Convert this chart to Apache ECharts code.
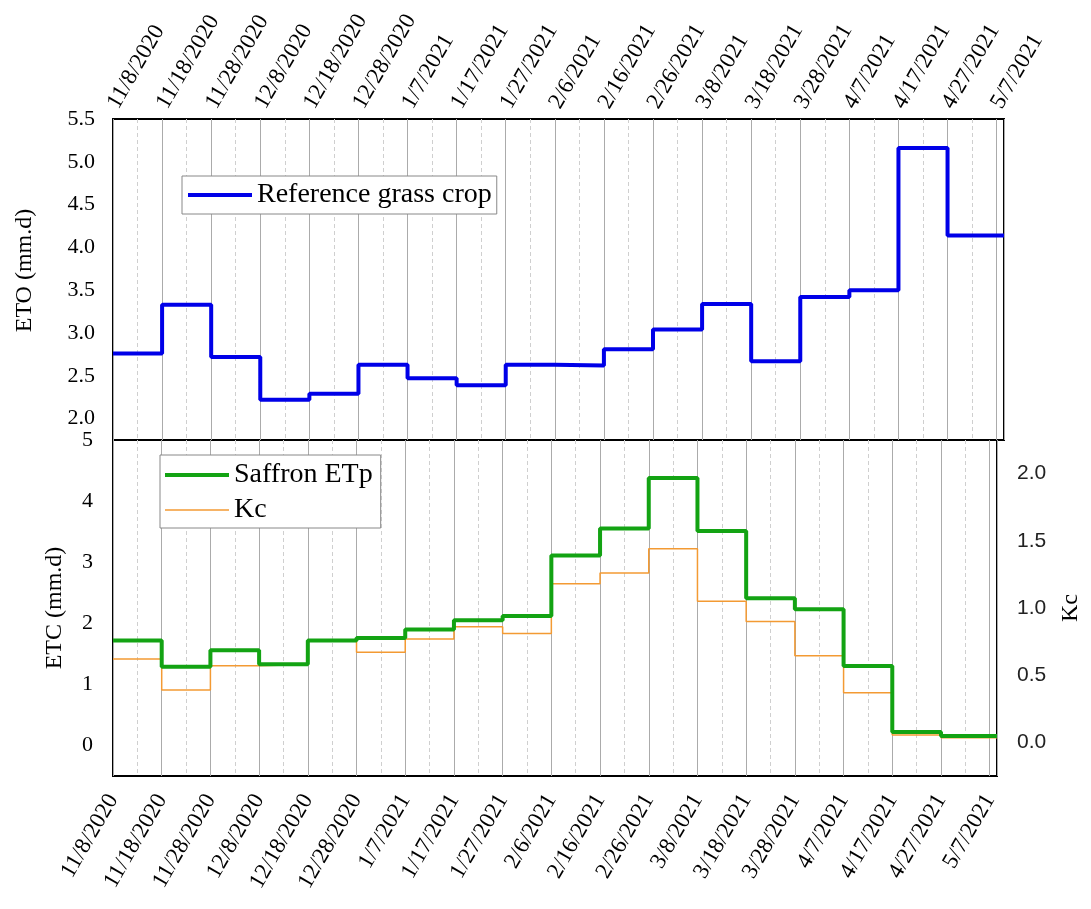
<!DOCTYPE html>
<html>
<head>
<meta charset="utf-8">
<script src="https://cdn.jsdelivr.net/npm/echarts@6/dist/echarts.min.js"></script>
<style>
    html, body { margin: 0; padding: 0; background: #fff; }
    #chart { width: 1091px; height: 909px; }
</style>
</head>
<body>
<div id="chart"></div>
<script>
// tick labels of the shared date axis (10 day steps)
var dateLabels = ['11/8/2020', '11/18/2020', '11/28/2020', '12/8/2020', '12/18/2020', '12/28/2020',
    '1/7/2021', '1/17/2021', '1/27/2021', '2/6/2021', '2/16/2021', '2/26/2021', '3/8/2021',
    '3/18/2021', '3/28/2021', '4/7/2021', '4/17/2021', '4/27/2021', '5/7/2021'];

// step values, one per 10 day period starting at dateLabels[i]
var etoValues = [2.76, 3.33, 2.72, 2.22, 2.29, 2.63, 2.47, 2.39, 2.63,
    2.62, 2.81, 3.04, 3.34, 2.67, 3.42, 3.50, 5.16, 4.14];
var etcValues = [1.72, 1.29, 1.56, 1.33, 1.72, 1.76, 1.90, 2.05, 2.12,
    3.11, 3.55, 4.38, 3.51, 2.41, 2.23, 1.30, 0.22, 0.155];
var kcValues = [0.62, 0.39, 0.57, 0.58, 0.76, 0.67, 0.77, 0.86, 0.81,
    1.18, 1.26, 1.44, 1.05, 0.90, 0.645, 0.37, 0.055, 0.035];

var X_MAX = 181.5;     // axis runs a little past 5/7/2021
var SERIF = 'Liberation Serif';
var BLUE = '#0000e8', GREEN = '#13a313', ORANGE = '#f39a33';

function dayOf(label) {
    var p = label.split('/');
    return Date.UTC(+p[2], +p[0] - 1, +p[1]) / 86400000;
}
var day0 = dayOf(dateLabels[0]);
var labelAt = {};
dateLabels.forEach(function (d) { labelAt[dayOf(d) - day0] = d; });

// step line points, last value held to the end of the axis
function steps(vals) {
    var out = vals.map(function (v, i) { return [dayOf(dateLabels[i]) - day0, v]; });
    out.push([X_MAX, vals[vals.length - 1]]);
    return out;
}

function isStep(v, s) {
    return Math.abs(v / s - Math.round(v / s)) < 1e-6;
}

function xAxisOf(grid, pos) {
    return {
        gridIndex: grid,
        type: 'value',
        position: pos,
        min: 0,
        max: X_MAX,
        interval: 10,
        axisLine: { show: false },
        axisTick: { show: false },
        axisLabel: {
            rotate: pos == 'top' ? -60 : 60,
            margin: pos == 'top' ? 12 : 20,
            color: '#000',
            fontFamily: SERIF,
            fontSize: 23,
            formatter: function (v) {
                var k = Math.round(v);
                return Math.abs(v - k) < 1e-6 && labelAt[k] ? labelAt[k] : '';
            }
        },
        splitLine: { show: true, lineStyle: { color: '#ababab', width: 1 } },
        minorTick: { show: false, splitNumber: 2 },
        minorSplitLine: { show: true, lineStyle: { color: '#cfcfcf', width: 1, type: [4, 3] } }
    };
}

var legendBase = {
    borderColor: '#888', borderWidth: 1, backgroundColor: '#fff',
    itemWidth: 64, itemHeight: 14,
    itemStyle: { opacity: 0 },
    textStyle: { fontFamily: SERIF, fontSize: 28, color: '#000', lineHeight: 30 }
};

var chart = echarts.init(document.getElementById('chart'));

var option = {
    backgroundColor: '#fff',
    animation: false,
    grid: [
        { left: 113, top: 119, width: 891, height: 321, show: true, borderColor: '#000', borderWidth: 2, backgroundColor: 'transparent' },
        { left: 113, top: 440, width: 891, height: 336, show: true, borderColor: '#000', borderWidth: 2, backgroundColor: 'transparent' }
    ],
    legend: [
        Object.assign({}, legendBase, {
            data: [{ name: 'Reference grass crop', lineStyle: { color: BLUE, width: 4 } }],
            left: 182, top: 176,
            padding: [4, 5, 4, 4]
        }),
        Object.assign({}, legendBase, {
            data: [
                { name: 'Saffron ETp', lineStyle: { color: GREEN, width: 4 } },
                { name: 'Kc', lineStyle: { color: ORANGE, width: 1.5 } }
            ],
            orient: 'vertical',
            left: 160, top: 455,
            padding: [5, 8, 3, 3],
            itemGap: 5
        })
    ],
    xAxis: [xAxisOf(0, 'top'), xAxisOf(1, 'bottom')],
    yAxis: [
        {
            gridIndex: 0,
            type: 'value',
            min: 1.75, max: 5.5, interval: 0.25,
            name: 'ETO (mm.d)', nameLocation: 'middle', nameGap: 76,
            nameTextStyle: { fontFamily: SERIF, fontSize: 24, color: '#000', padding: [0, 0, 0, 18] },
            axisLine: { show: false },
            axisTick: { show: false },
            splitLine: { show: false },
            axisLabel: {
                margin: 18, color: '#000', fontFamily: SERIF, fontSize: 22,
                formatter: function (v) { return isStep(v, 0.5) ? v.toFixed(1) : ''; }
            }
        },
        {
            gridIndex: 1,
            type: 'value',
            min: -0.5, max: 5, interval: 0.5,
            name: 'ETC (mm.d)', nameLocation: 'middle', nameGap: 46,
            nameTextStyle: { fontFamily: SERIF, fontSize: 24, color: '#000' },
            axisLine: { show: false },
            axisTick: { show: false },
            splitLine: { show: false },
            axisLabel: {
                margin: 20, color: '#000', fontFamily: SERIF, fontSize: 22,
                formatter: function (v) { return v >= 0 && isStep(v, 1) ? String(Math.round(v)) : ''; }
            }
        },
        {
            gridIndex: 1,
            type: 'value',
            position: 'right',
            min: -0.25, max: 2.25, interval: 0.25,
            name: 'Kc', nameLocation: 'middle', nameGap: 62, nameRotate: 90,
            nameTextStyle: { fontFamily: SERIF, fontSize: 24, color: '#000' },
            axisLine: { show: false },
            axisTick: { show: false },
            splitLine: { show: false },
            axisLabel: {
                margin: 20, color: '#222', fontFamily: 'Liberation Sans', fontSize: 21,
                formatter: function (v) { return v >= 0 && isStep(v, 0.5) ? v.toFixed(1) : ''; }
            }
        }
    ],
    series: [
        {
            name: 'Reference grass crop',
            type: 'line', step: 'end', symbol: 'none',
            xAxisIndex: 0, yAxisIndex: 0,
            color: BLUE,
            lineStyle: { color: BLUE, width: 4 },
            data: steps(etoValues)
        },
        {
            name: 'Kc',
            type: 'line', step: 'end', symbol: 'none',
            xAxisIndex: 1, yAxisIndex: 2,
            color: ORANGE,
            lineStyle: { color: ORANGE, width: 1.5 },
            z: 2,
            data: steps(kcValues)
        },
        {
            name: 'Saffron ETp',
            type: 'line', step: 'end', symbol: 'none',
            xAxisIndex: 1, yAxisIndex: 1,
            color: GREEN,
            lineStyle: { color: GREEN, width: 4 },
            z: 3,
            data: steps(etcValues)
        }
    ]
};

chart.setOption(option);
</script>
</body>
</html>
